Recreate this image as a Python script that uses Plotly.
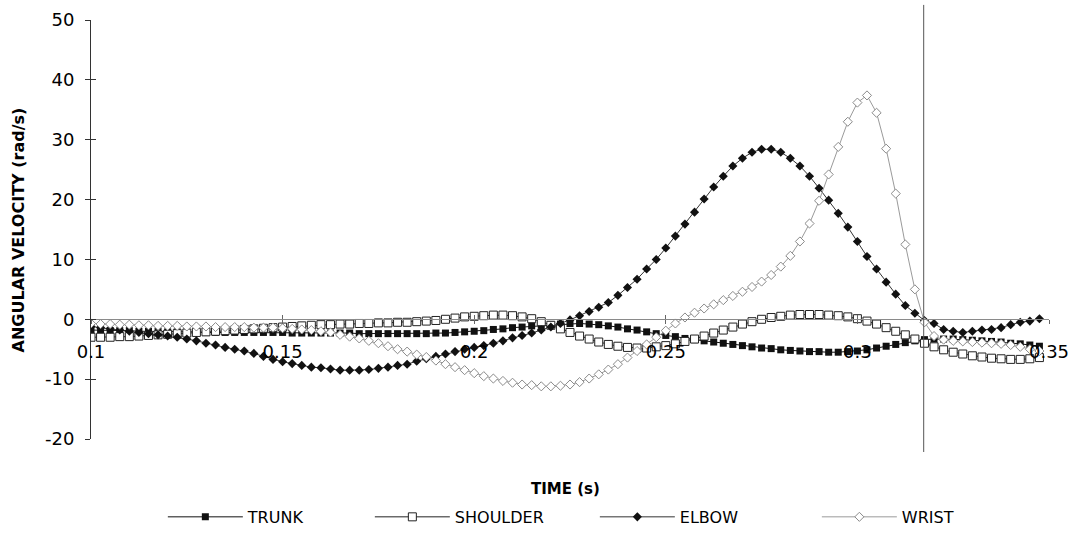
import plotly.graph_objects as go

# Sample times (s): 400 Hz sampling starting at 0.1 s
time_s = [round(0.1 + 0.0025 * i, 4) for i in range(100)]

trunk = [
    -1.8, -1.8, -1.9, -1.9, -1.9, -2.0, -2.0, -2.0, -2.1, -2.1,
    -2.1, -2.1, -2.2, -2.2, -2.2, -2.2, -2.2, -2.2, -2.2, -2.2,
    -2.2, -2.3, -2.3, -2.3, -2.3, -2.3, -2.3, -2.3, -2.4, -2.4,
    -2.4, -2.4, -2.4, -2.4, -2.4, -2.4, -2.3, -2.3, -2.2, -2.1,
    -2.0, -1.9, -1.7, -1.6, -1.4, -1.3, -1.1, -1.0, -0.9, -0.8,
    -0.7, -0.7, -0.8, -0.9, -1.1, -1.3, -1.6, -1.8, -2.1, -2.4,
    -2.7, -2.9, -3.2, -3.4, -3.6, -3.8, -4.0, -4.2, -4.4, -4.6,
    -4.8, -4.9, -5.1, -5.2, -5.3, -5.4, -5.4, -5.5, -5.5, -5.4,
    -5.3, -5.1, -4.8, -4.5, -4.2, -3.9, -3.6, -3.4, -3.3, -3.3,
    -3.3, -3.4, -3.5, -3.6, -3.7, -3.8, -4.0, -4.1, -4.3, -4.5,
]

shoulder = [
    -3.0, -3.0, -3.0, -2.9, -2.9, -2.8, -2.7, -2.6, -2.5, -2.4,
    -2.3, -2.2, -2.1, -2.0, -1.9, -1.8, -1.7, -1.6, -1.5, -1.4,
    -1.3, -1.2, -1.1, -1.0, -0.9, -0.9, -0.8, -0.8, -0.7, -0.7,
    -0.6, -0.6, -0.5, -0.5, -0.4, -0.3, -0.2, 0.0, 0.2, 0.4,
    0.5, 0.6, 0.7, 0.7, 0.6, 0.4, 0.1, -0.4, -1.0, -1.6,
    -2.2, -2.8, -3.3, -3.8, -4.2, -4.5, -4.7, -4.8, -4.8, -4.6,
    -4.4, -4.1, -3.7, -3.3, -2.8, -2.3, -1.8, -1.3, -0.8, -0.4,
    0.0, 0.3, 0.5, 0.7, 0.8, 0.8, 0.8, 0.7, 0.6, 0.4,
    0.1, -0.3, -0.8, -1.4, -2.0, -2.6, -3.3, -4.0, -4.6, -5.1,
    -5.5, -5.8, -6.1, -6.3, -6.5, -6.6, -6.7, -6.7, -6.6, -6.4,
]

elbow = [
    -1.2, -1.4, -1.6, -1.8, -2.0, -2.2, -2.4, -2.6, -2.8, -3.0,
    -3.3, -3.6, -4.0, -4.3, -4.7, -5.0, -5.3, -5.7, -6.2, -6.7,
    -7.1, -7.4, -7.7, -8.0, -8.1, -8.3, -8.5, -8.5, -8.5, -8.4,
    -8.2, -8.0, -7.7, -7.5, -7.0, -6.6, -6.2, -5.8, -5.4, -5.0,
    -4.7, -4.4, -4.0, -3.6, -3.1, -2.7, -2.3, -1.8, -1.3, -0.7,
    -0.1, 0.6, 1.3, 2.0, 2.8, 4.0, 5.3, 6.7, 8.4, 10.0,
    11.9, 13.9, 15.9, 17.9, 20.1, 22.1, 23.9, 25.6, 26.9, 27.9,
    28.4, 28.4, 27.9, 26.9, 25.6, 23.9, 21.9, 19.9, 17.7, 15.4,
    13.0, 10.5, 8.4, 6.2, 4.2, 2.3, 1.0, -0.2, -0.7, -1.7,
    -2.0, -2.2, -2.0, -1.8, -1.7, -1.4, -0.9, -0.5, -0.3, 0.1,
]

wrist = [
    -0.7, -0.8, -0.8, -0.9, -0.9, -1.0, -1.0, -1.1, -1.1, -1.1,
    -1.2, -1.2, -1.2, -1.3, -1.3, -1.3, -1.3, -1.4, -1.4, -1.4,
    -1.5, -1.6, -1.7, -1.8, -2.0, -2.2, -2.6, -2.9, -3.2, -3.6,
    -4.0, -4.5, -5.0, -5.4, -5.9, -6.3, -6.9, -7.5, -8.0, -8.5,
    -9.0, -9.5, -9.9, -10.3, -10.6, -10.9, -11.0, -11.2, -11.2, -11.1,
    -10.9, -10.5, -9.9, -9.2, -8.4, -7.5, -6.4, -5.3, -4.2, -3.0,
    -1.9, -0.7, 0.3, 1.1, 1.8, 2.5, 3.2, 3.9, 4.6, 5.4,
    6.3, 7.4, 8.8, 10.6, 13.0, 16.0, 19.8, 24.2, 28.8, 33.0,
    36.2, 37.4, 34.5, 28.5, 21.0, 12.5, 5.0, -0.5, -2.8, -3.4,
    -3.6, -3.7, -3.8, -3.9, -4.0, -4.1, -4.3, -4.6, -5.0, -5.3,
]

x_ticks = [0.1, 0.15, 0.2, 0.25, 0.3, 0.35]
x_tick_text = ["0.1", "0.15", "0.2", "0.25", "0.3", "0.35"]
y_ticks = [-20, -10, 0, 10, 20, 30, 40, 50]
y_tick_text = ["-20", "-10", "0", "10", "20", "30", "40", "50"]
release_time = 0.3173

Y_MIN, Y_MAX = -20, 50
FONT = "DejaVu Sans"

fig = go.Figure()

fig.add_trace(go.Scatter(
    x=time_s, y=trunk, name="TRUNK", mode="lines+markers",
    line=dict(color="#111111", width=1),
    marker=dict(symbol="square", size=7, color="#111111"),
    legendwidth=117,
))
fig.add_trace(go.Scatter(
    x=time_s, y=shoulder, name="SHOULDER", mode="lines+markers",
    line=dict(color="#222222", width=1),
    marker=dict(symbol="square", size=8, color="white",
                line=dict(width=1, color="#222222")),
    legendwidth=135,
))
fig.add_trace(go.Scatter(
    x=time_s, y=elbow, name="ELBOW", mode="lines+markers",
    line=dict(color="#333333", width=1),
    marker=dict(symbol="diamond", size=7, color="#111111"),
    legendwidth=132,
))
fig.add_trace(go.Scatter(
    x=time_s, y=wrist, name="WRIST", mode="lines+markers",
    line=dict(color="#9a9a9a", width=1),
    marker=dict(symbol="diamond", size=7, color="white",
                line=dict(width=1, color="#8a8a8a")),
))

# Ball-release marker
fig.add_shape(type="line", xref="x", yref="paper",
              x0=release_time, x1=release_time, y0=-0.031, y1=1.036,
              line=dict(color="#555555", width=1))

fig.update_layout(
    width=1072, height=549,
    margin=dict(l=91, r=23, t=20, b=110, autoexpand=False),
    paper_bgcolor="white", plot_bgcolor="white",
    font=dict(family=FONT, color="black", size=16),
    showlegend=True,
    legend=dict(orientation="h", x=0.075, xanchor="left",
                y=-0.186, yanchor="middle",
                font=dict(family=FONT, size=16), itemwidth=75),
    xaxis=dict(
        range=[0.1, 0.35], anchor="free", automargin=False,
        position=(0 - Y_MIN) / (Y_MAX - Y_MIN),
        tickvals=x_ticks, ticktext=x_tick_text,
        ticks="outside", ticklen=4, tickcolor="#666666",
        showline=True, linecolor="#8a8a8a", linewidth=1,
        showgrid=False, zeroline=False,
        tickfont=dict(family=FONT, size=18),
        ticklabelstandoff=12,
    ),
    xaxis2=dict(
        range=[0.1, 0.35], overlaying="x", anchor="free", automargin=False,
        position=(0 - Y_MIN) / (Y_MAX - Y_MIN),
        tickvals=x_ticks, ticks="inside", ticklen=4, tickcolor="#666666",
        showticklabels=False, showline=False, showgrid=False, zeroline=False,
    ),
    yaxis=dict(
        range=[Y_MIN, Y_MAX], tickvals=y_ticks, ticktext=y_tick_text,
        ticks="outside", ticklen=5, tickcolor="#333333", automargin=False,
        showline=True, linecolor="#333333", linewidth=1,
        showgrid=False, zeroline=False,
        tickfont=dict(family=FONT, size=18),
        ticklabelstandoff=7,
    ),
    yaxis2=dict(
        range=[Y_MIN, Y_MAX], overlaying="y", side="left", automargin=False,
        tickvals=y_ticks, ticks="inside", ticklen=5, tickcolor="#333333",
        showticklabels=False, showline=False, showgrid=False, zeroline=False,
    ),
    annotations=[
        dict(text="<b>TIME (s)</b>", xref="paper", yref="paper",
             x=0.495, y=-0.119, showarrow=False, yanchor="middle",
             font=dict(family=FONT, size=15)),
        dict(text="<b>ANGULAR VELOCITY (rad/s)</b>", xref="paper",
             yref="paper", x=-0.0752, y=0.5, textangle=-90,
             showarrow=False, xanchor="center", yanchor="middle",
             font=dict(family=FONT, size=16)),
    ],
)

# Invisible traces bind the secondary tick axes so they are drawn
fig.add_trace(go.Scatter(x=[None], y=[None], xaxis="x2", yaxis="y2",
                         showlegend=False, hoverinfo="skip"))

fig.write_html("out.html")
